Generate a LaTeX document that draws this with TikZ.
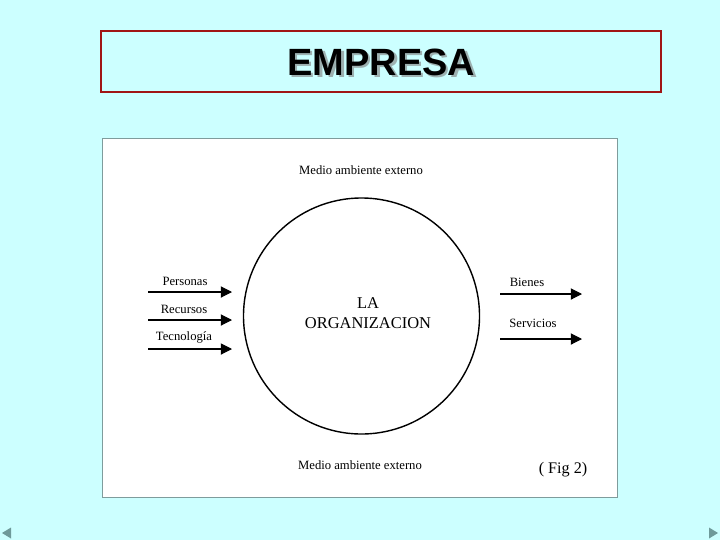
\documentclass[tikz,border=0pt]{standalone}
\usepackage{fontspec}
\setmainfont{Liberation Serif}
\newfontfamily\titlefont{Liberation Sans}
\usetikzlibrary{positioning, arrows.meta}
\definecolor{SlideBg}{HTML}{CCFFFF}
\definecolor{TitleRed}{HTML}{A01515}
\definecolor{PanelEdge}{HTML}{7F9C9C}
\definecolor{NavGray}{HTML}{6E9A9A}
\definecolor{ShadowGray}{HTML}{9DB0B0}
\newcommand{\shadowtext}[1]{\makebox[0pt][l]{\hspace{1.6pt}\raisebox{-1.6pt}{\color{ShadowGray}#1}}#1}
\tikzset{
  lbl/.style={font=\fontsize{9}{10}\selectfont, inner sep=1pt},
  flow/.style={-{Triangle[length=8pt, width=8pt]}, line width=0.75pt},
  nav/.style={fill=NavGray, draw=none}
}

\begin{document}
\begin{tikzpicture}[x=0.025cm, y=-0.025cm]
  % slide
  \fill[SlideBg] (0,0) rectangle (720,540);
  \useasboundingbox (0,0) rectangle (720,540);

  % title
  \draw[TitleRed, line width=2pt, fill=SlideBg] (101,31) rectangle (661,92);
  \node[font=\titlefont\bfseries\fontsize{27}{30}\selectfont] (title) at (381.5,63.5) {\shadowtext{EMPRESA}};

  % figure
  \draw[PanelEdge, fill=white, line width=0.6pt] (102,138) rectangle (617,497);
  \node[draw, circle, line width=1pt, minimum size=236*0.025cm, inner sep=0pt] (org) at (361.5,316) {};
  \node[font=\fontsize{11.7}{14}\selectfont, align=center] (orgtext) at (368,313) {LA\\ORGANIZACION};
  \node[lbl] (envtop) at (361,170) {Medio ambiente externo};
  \node[lbl] (envbot) at (360,465) {Medio ambiente externo};
  \node[font=\fontsize{11.5}{13}\selectfont] (fig) at (563,470) {( Fig 2)};

  % inputs
  \coordinate (in1a) at (148,292);  \coordinate (in1b) at (232,292);
  \coordinate (in2a) at (148,320);  \coordinate (in2b) at (232,320);
  \coordinate (in3a) at (148,349);  \coordinate (in3b) at (232,349);
  \node[lbl] (personas) at (185,281) {Personas};
  \node[lbl] (recursos) at (184,309) {Recursos};
  \node[lbl] (tecnologia) at (184,337) {Tecnología};
  \draw[flow] (in1a) -- (in1b);
  \draw[flow] (in2a) -- (in2b);
  \draw[flow] (in3a) -- (in3b);

  % outputs
  \coordinate (out1a) at (500,294); \coordinate (out1b) at (582,294);
  \coordinate (out2a) at (500,339); \coordinate (out2b) at (582,339);
  \node[lbl] (bienes) at (527,282) {Bienes};
  \node[lbl] (servicios) at (533,323) {Servicios};
  \draw[flow] (out1a) -- (out1b);
  \draw[flow] (out2a) -- (out2b);

  % navigation
  \fill[nav] (2,533) -- (11,527.5) -- (11,538.5) -- cycle;
  \fill[nav] (718,533) -- (709,527.5) -- (709,538.5) -- cycle;
\end{tikzpicture}
\end{document}
